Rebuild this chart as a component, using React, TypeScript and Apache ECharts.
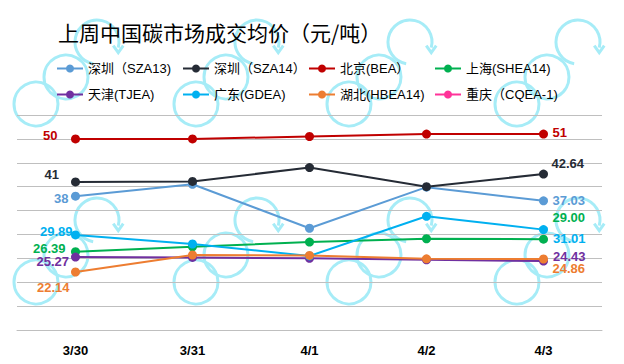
import React, { useEffect, useRef } from "react";
import * as echarts from "echarts";

// ---- data ----
const categories = ["3/30", "3/31", "4/1", "4/2", "4/3"];
const seriesNames = [
  "深圳（SZA13)",
  "深圳（SZA14）",
  "北京(BEA）",
  "上海(SHEA14)",
  "天津(TJEA)",
  "广东(GDEA)",
  "湖北(HBEA14)",
  "重庆（CQEA-1)",
];
const sza13 = [38, 40.5, 31.3, 39.9, 37.03];
const sza14 = [41, 41.1, 44.0, 40.0, 42.64];
const bea = [50, 50, 50.5, 51, 51];
const shea14 = [26.39, 27.4, 28.4, 29.1, 29.0];
const tjea = [25.27, 25.2, 25.0, 24.7, 24.43];
const gdea = [29.89, 28.0, 25.5, 33.8, 31.01];
const hbea14 = [22.14, 25.7, 25.6, 24.9, 24.86];
const cqea: number[] = [];
const seriesValues = [sza13, sza14, bea, shea14, tjea, gdea, hbea14, cqea];
const firstLabels = ["38", "41", "50", "26.39", "25.27", "29.89", "22.14", ""];
const lastLabels = ["37.03", "42.64", "51", "29.00", "24.43", "31.01", "24.86", ""];

// ---- styles ----
const colors = ["#5B9BD5", "#252B35", "#C00000", "#00B050", "#7030A0", "#00B0F0", "#ED7D31", "#FF3399"];
const firstOffsets = [[-2.5, 2.6], [-12, -7.7], [-13.5, -3.5], [-5.5, -2.7], [-2, 4], [1.5, -3.3], [-1.5, 15.7], [0, 0]];
const lastOffsets = [[4.5, -0.7], [3.5, -10.3], [4.5, -1.6], [4.5, -21.6], [5, -4.3], [5, 9.3], [4.5, 9], [0, 0]];
const FONT = "'Liberation Sans', Arial, 'Noto Sans CJK SC', sans-serif";
const TITLE_FONT = "'Noto Sans CJK SC', 'Liberation Sans', sans-serif";
const legendCols = [56, 182, 308, 434];
const legendRows = [62, 88];

// watermark (decorative background)
const wmArrowX = [97, 257, 410, 578];
const wmArrowY = [42, 220];
const WM = "#A6ECF7";

function watermark() {
  const els: any[] = [];
  const r = 22;
  wmArrowY.forEach((ay) => {
    wmArrowX.forEach((ax) => {
      els.push({
        type: "arc",
        z: -10,
        silent: true,
        shape: { cx: ax, cy: ay, r, startAngle: (100 * Math.PI) / 180, endAngle: (375 * Math.PI) / 180, clockwise: true },
        style: { stroke: WM, lineWidth: 3, fill: "none" },
      });
      const tx = ax + r * Math.cos((15 * Math.PI) / 180);
      const ty = ay + r * Math.sin((15 * Math.PI) / 180);
      els.push({
        type: "polyline",
        z: -10,
        silent: true,
        shape: { points: [[tx - 5, ty - 2], [tx, ty + 5], [tx + 5, ty - 2]] },
        style: { stroke: WM, lineWidth: 3, fill: "none" },
      });
      els.push({
        type: "circle",
        z: -10,
        silent: true,
        shape: { cx: ax - 31, cy: ay + 35, r },
        style: { stroke: WM, lineWidth: 3, fill: "none" },
      });
      els.push({
        type: "circle",
        z: -10,
        silent: true,
        shape: { cx: ax - 61, cy: ay + 62, r },
        style: { stroke: WM, lineWidth: 3, fill: "none" },
      });
    });
  });
  return els;
}

export default function App() {
  const ref = useRef<HTMLDivElement>(null);
  useEffect(() => {
    if (!ref.current) return;
    const chart = echarts.init(ref.current, undefined, { renderer: "svg" });
    const series = seriesNames.map((name, si) => {
      const vals = seriesValues[si];
      const data = vals.map((v, i) => {
        const isFirst = i === 0;
        const isLast = i === vals.length - 1;
        if (!isFirst && !isLast) return v;
        const off = isFirst ? firstOffsets[si] : lastOffsets[si];
        return {
          value: v,
          label: {
            show: true,
            position: isFirst ? "left" : "right",
            distance: 0,
            offset: off,
            formatter: isFirst ? firstLabels[si] : lastLabels[si],
            color: colors[si],
            fontSize: 13,
            fontWeight: "bold",
            fontFamily: FONT,
          },
        };
      });
      return {
        name,
        type: "line",
        data,
        symbol: "circle",
        symbolSize: 9,
        itemStyle: { color: colors[si] },
        lineStyle: { color: colors[si], width: 2 },
        label: { show: false },
        z: 3,
      };
    });
    const legends = seriesNames.map((name, i) => ({
      data: [name],
      left: legendCols[i % 4],
      top: legendRows[Math.floor(i / 4)],
      padding: 0,
      itemWidth: 26,
      itemHeight: 10,
      textStyle: { fontSize: 13, color: "#000", fontFamily: FONT },
      selectedMode: false,
    }));
    chart.setOption({
      animation: false,
      backgroundColor: "#fff",
      graphic: { z: -10, elements: watermark() },
      title: {
        text: "上周中国碳市场成交均价（元/吨）",
        left: 58,
        top: 21,
        padding: 0,
        textStyle: { fontSize: 21, fontWeight: "normal", color: "#000", fontFamily: TITLE_FONT },
      },
      legend: legends,
      grid: { left: 17, right: 22, top: 115, bottom: 34, containLabel: false },
      xAxis: {
        type: "category",
        data: categories,
        boundaryGap: true,
        axisLine: { show: true, lineStyle: { color: "#BFBFBF", width: 1 } },
        axisTick: { show: false },
        axisLabel: { margin: 14, fontSize: 13, fontWeight: "bold", color: "#000", fontFamily: FONT },
      },
      yAxis: {
        type: "value",
        min: 10,
        max: 55,
        interval: 5,
        axisLine: { show: false },
        axisTick: { show: false },
        axisLabel: { show: false },
        splitLine: { show: true, lineStyle: { color: "#BFBFBF", width: 1 } },
      },
      series,
    });
    return () => chart.dispose();
  }, []);
  return <div ref={ref} style={{ width: 624, height: 364, position: "absolute", left: 0, top: 0 }} />;
}
